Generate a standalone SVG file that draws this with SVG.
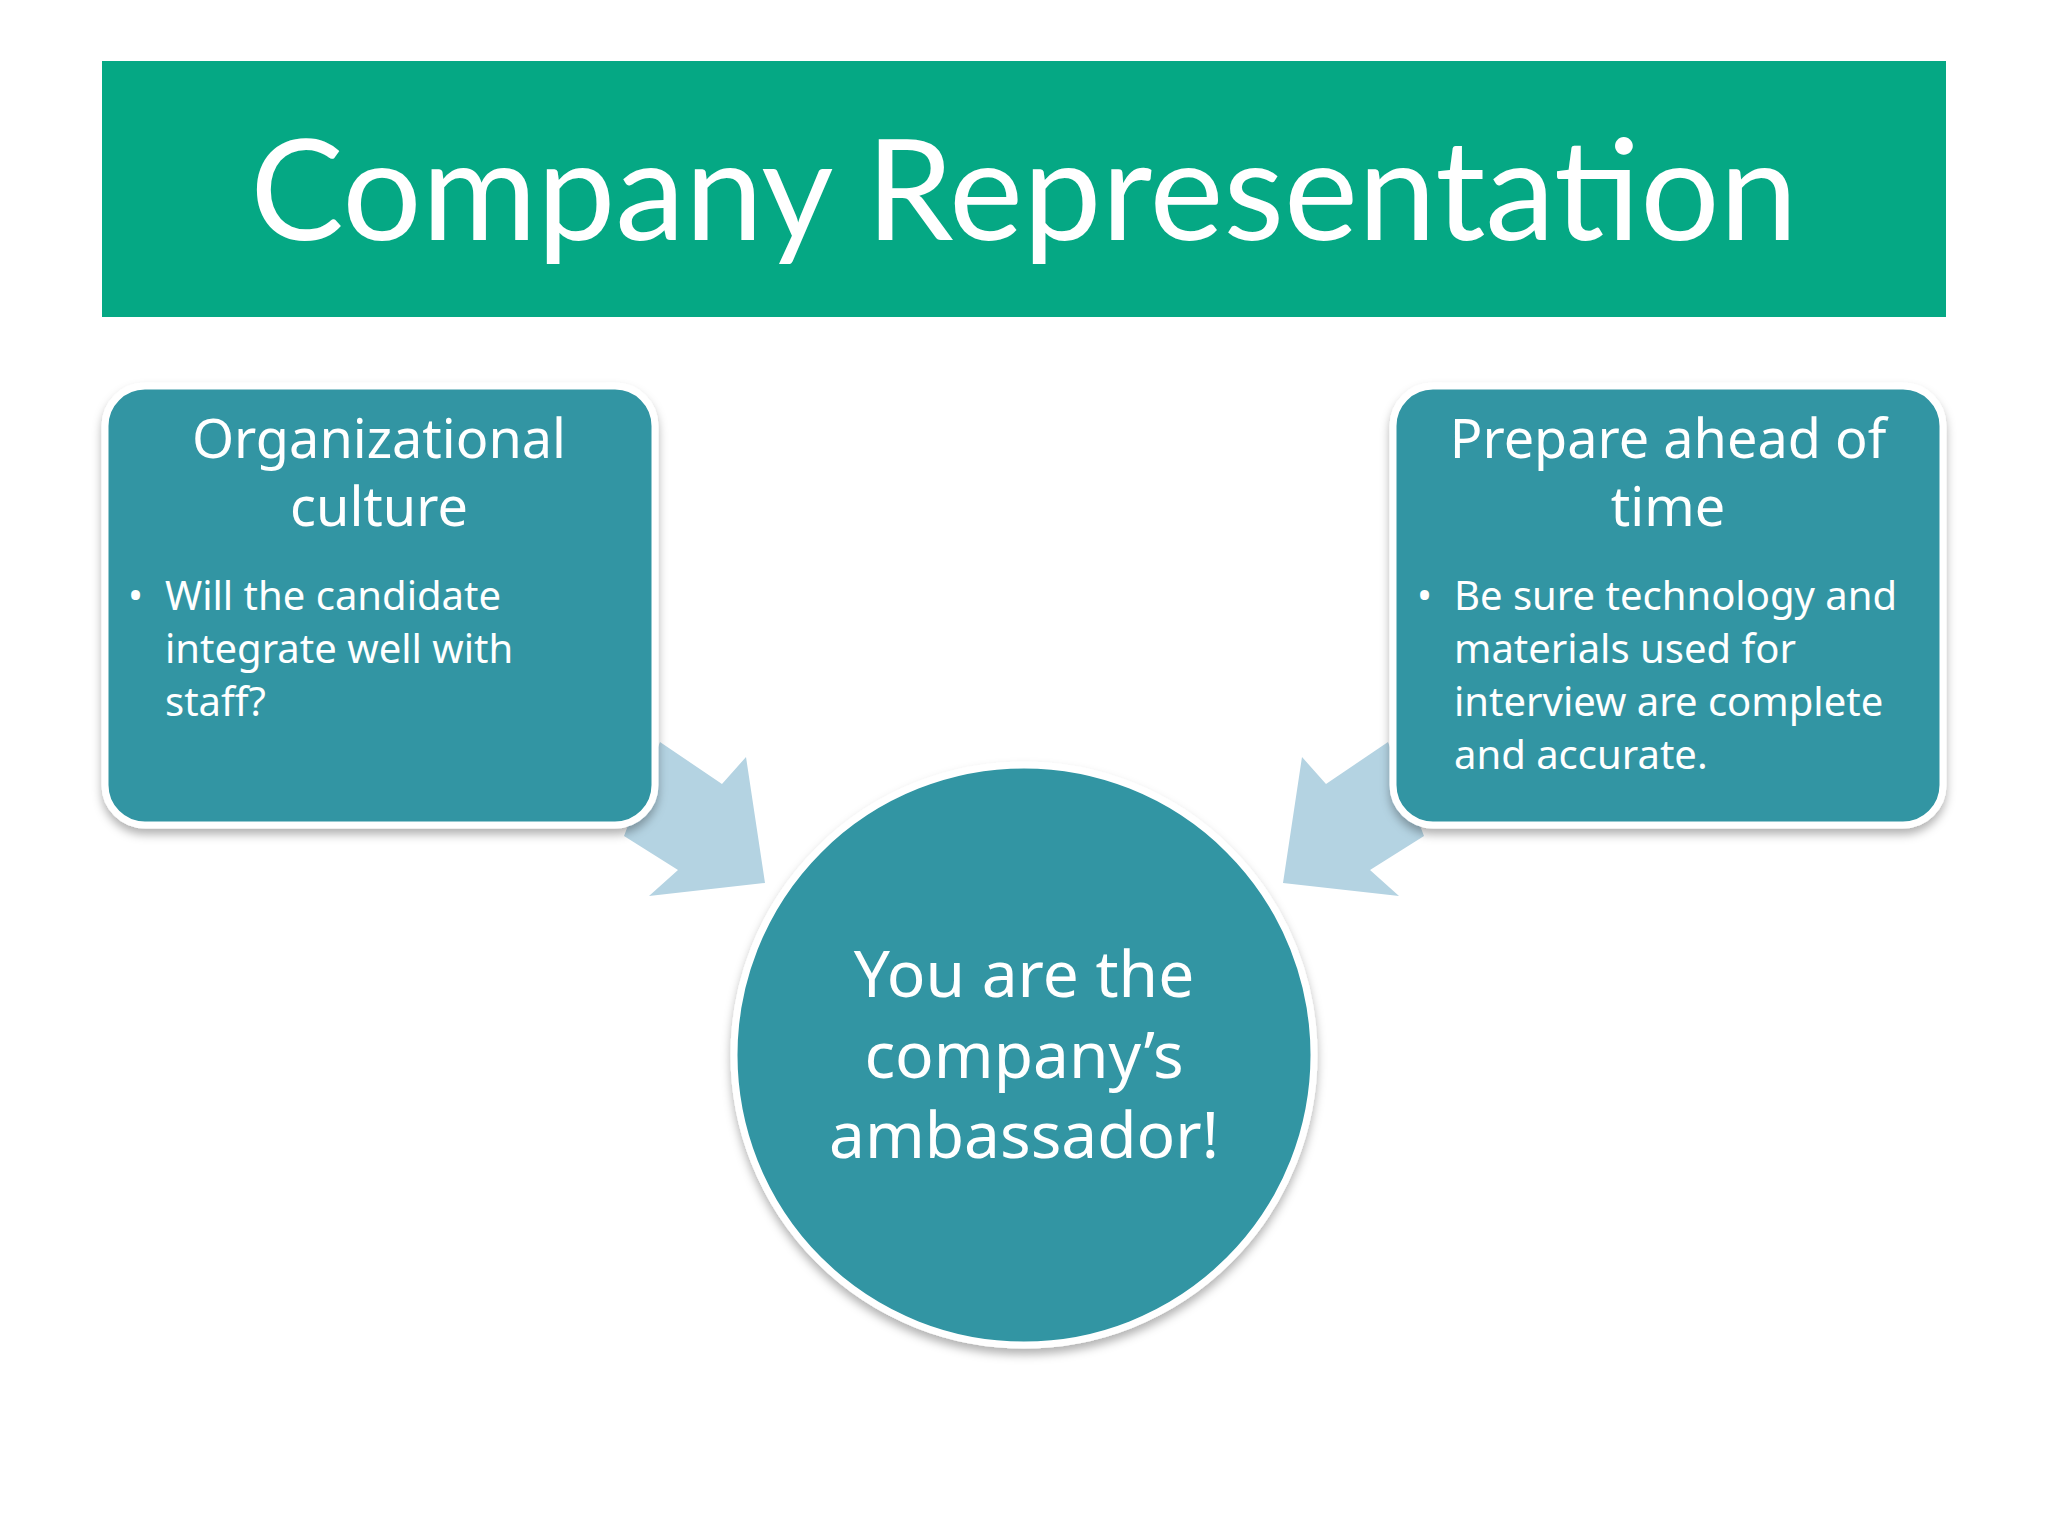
<svg xmlns="http://www.w3.org/2000/svg" width="2048" height="1536" viewBox="0 0 2048 1536">
<defs>
<style>
.t{font-family:"Noto Sans","Open Sans",sans-serif;fill:#fff}
.h{font-size:54px;text-anchor:middle}
.b{font-size:40px}
.c{font-size:64px;text-anchor:middle}
.node{fill:#3095a3;stroke:#fff;stroke-width:7}
.arr{fill:#b4d3e2}
</style>
<filter id="sh" x="-10%" y="-10%" width="120%" height="130%"><feDropShadow dx="0" dy="6" stdDeviation="5" flood-color="#000" flood-opacity="0.3"/></filter>
</defs>
<rect width="2048" height="1536" fill="#fff"/>
<g id="banner">
<rect x="102" y="61" width="1844" height="256" fill="#05a884"/>
<text x="1024" y="240" font-family="Lato,'Open Sans',sans-serif" font-size="140" fill="#fff" text-anchor="middle">Company Representation</text>
</g>
<g id="connectors">
<polygon class="arr" points="660,742 722,784 746,757 765,883 649,896 678,870 624,836"/>
<polygon class="arr" points="1388,742 1326,784 1302,757 1283,883 1399,896 1370,870 1424,836"/>
</g>
<g id="left">
<rect class="node" x="105" y="386" width="550" height="439" rx="40" filter="url(#sh)"/>
<text class="t h" x="379" y="458">Organizational</text>
<text class="t h" x="379" y="526">culture</text>
<text class="t b" x="128" y="610">•</text>
<text class="t b" x="165" y="610">Will the candidate</text>
<text class="t b" x="165" y="663">integrate well with</text>
<text class="t b" x="165" y="716">staff?</text>
</g>
<g id="right">
<rect class="node" x="1393" y="386" width="550" height="439" rx="40" filter="url(#sh)"/>
<text class="t h" x="1668" y="458">Prepare ahead of</text>
<text class="t h" x="1668" y="526">time</text>
<text class="t b" x="1417" y="610">•</text>
<text class="t b" x="1454" y="610">Be sure technology and</text>
<text class="t b" x="1454" y="663">materials used for</text>
<text class="t b" x="1454" y="716">interview are complete</text>
<text class="t b" x="1454" y="769">and accurate.</text>
</g>
<g id="center">
<circle class="node" cx="1024" cy="1055" r="290" filter="url(#sh)"/>
<text class="t c" x="1024" y="997">You are the</text>
<text class="t c" x="1024" y="1078">company’s</text>
<text class="t c" x="1024" y="1158">ambassador!</text>
</g>
</svg>
